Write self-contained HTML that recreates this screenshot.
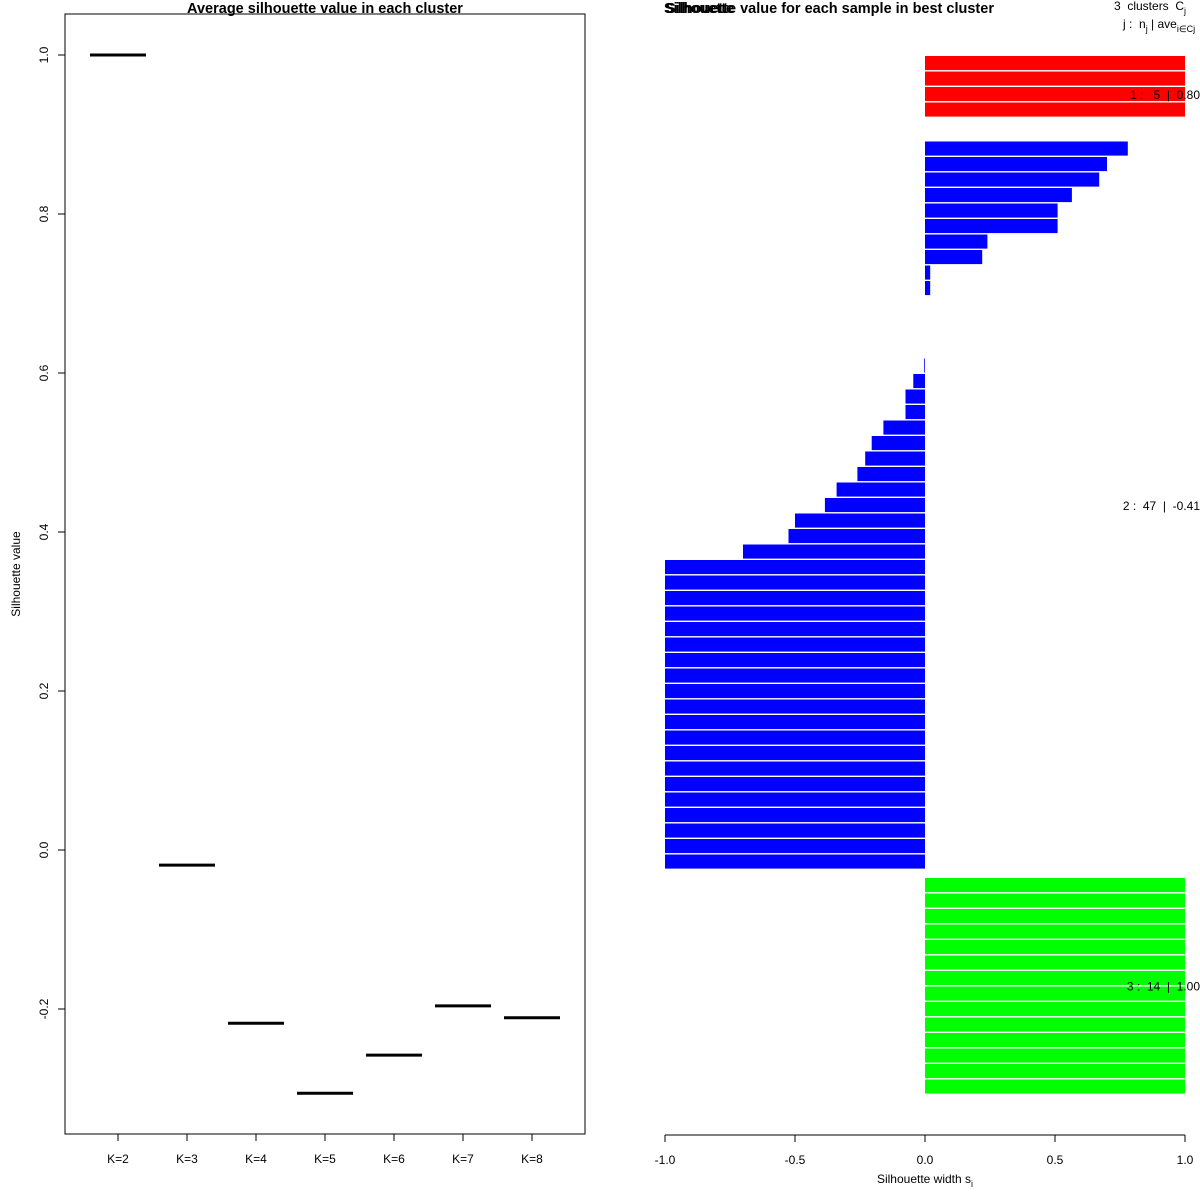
<!DOCTYPE html>
<html><head><meta charset="utf-8"><style>
body{margin:0;background:#fff}
svg{display:block;font-family:"Liberation Sans",Arial,sans-serif}
text{white-space:pre}
</style></head><body>
<svg id="chart" width="1200" height="1200" viewBox="0 0 1200 1200">
<rect x="65" y="14" width="520" height="1120" fill="none" stroke="#000" stroke-width="1"/>
<text x="325" y="13" text-anchor="middle" font-size="14.5" font-weight="bold">Average silhouette value in each cluster</text>
<text x="20" y="574" text-anchor="middle" font-size="12" transform="rotate(-90 20 574)">Silhouette value</text>
<g id="left"></g>
<text x="664" y="13" font-size="14.5" font-weight="bold">Silhouette</text>
<text x="666" y="13" font-size="14.5" font-weight="bold">Silhouette value for each sample in best cluster</text>
<text x="1114" y="10" font-size="12">3  clusters  C<tspan font-size="9" dy="4">j</tspan></text>
<text x="1123" y="28" font-size="12">j :  n<tspan font-size="9" dy="4">j</tspan><tspan dy="-4"> | ave</tspan><tspan font-size="9" dy="4">i∈Cj</tspan><tspan dy="-4">  s</tspan></text>
<g id="right"></g>
<text x="925" y="1183" text-anchor="middle" font-size="12">Silhouette width s<tspan font-size="9" dy="4">i</tspan></text>
</svg>
<script>
const NS="http://www.w3.org/2000/svg";
const kLabels=["K=2","K=3","K=4","K=5","K=6","K=7","K=8"];
const avgSil=[1.0,-0.019,-0.218,-0.306,-0.258,-0.196,-0.211];
const yTicks=[-0.2,0.0,0.2,0.4,0.6,0.8,1.0];
const clusterNames=["1","2","3"];
const clusterColors=["#ff0000","#0000ff","#00ff00"];
const clusterLabels=["1 :   5  |  0.80","2 :  47  |  -0.41","3 :  14  |  1.00"];
const sil1=[1,1,1,1,0];
const sil2=[0.78,0.70,0.67,0.565,0.51,0.51,0.24,0.22,0.02,0.02,0,0,0,0,-0.003,-0.045,-0.075,-0.075,-0.16,-0.205,-0.23,-0.26,-0.34,-0.385,-0.5,-0.525,-0.70,-1,-1,-1,-1,-1,-1,-1,-1,-1,-1,-1,-1,-1,-1,-1,-1,-1,-1,-1,-1];
const sil3=[1,1,1,1,1,1,1,1,1,1,1,1,1,1];
const xTicks=[-1.0,-0.5,0.0,0.5,1.0];

function mk(tag,attrs,parent){const e=document.createElementNS(NS,tag);for(const k in attrs)e.setAttribute(k,attrs[k]);parent.appendChild(e);return e;}
const L=document.getElementById('left');
const yL=v=>850-v*795;
const xL=i=>118+i*69;
mk('line',{x1:65,x2:65,y1:yL(-0.2),y2:yL(1.0),stroke:'#000'},L);
yTicks.forEach(t=>{
  const tk=mk('line',{x1:58,x2:65,y1:yL(t),y2:yL(t),stroke:'#000'},L);
  
  
  const tx=mk('text',{x:48,y:yL(t),'font-size':12,'text-anchor':'middle',transform:`rotate(-90 48 ${yL(t)})`},L);
  tx.textContent=t.toFixed(1);
  
  
});
mk('line',{x1:xL(0),x2:xL(kLabels.length-1),y1:1134,y2:1134,stroke:'#000'},L);
kLabels.forEach((k,i)=>{
  const tk=mk('line',{x1:xL(i),x2:xL(i),y1:1134,y2:1141,stroke:'#000'},L);
  
  
  const tx=mk('text',{x:xL(i),y:1163,'font-size':12,'text-anchor':'middle'},L);
  tx.textContent=k;
  
  
  const s=mk('line',{x1:xL(i)-28,x2:xL(i)+28,y1:yL(avgSil[i]),y2:yL(avgSil[i]),stroke:'#000','stroke-width':3},L);
  
  
});

const R=document.getElementById('right');
const xR=v=>925+v*260;
const pitch=15.5, gap=8;
let y=56;
[sil1,sil2,sil3].forEach((arr,c)=>{
  const y0=y;
  arr.forEach(v=>{
    if(v!==0){
      const r=mk('rect',{x:Math.min(xR(0),xR(v)),y:y,width:Math.abs(xR(v)-xR(0)),height:pitch-1.4,fill:clusterColors[c]},R);
      
      
    }
    y+=pitch;
  });
  const t=mk('text',{x:1200,y:(y0+y)/2+4,'font-size':12,'text-anchor':'end'},R);
  t.textContent=clusterLabels[c];
  
  
  y+=gap;
});
mk('line',{x1:xR(-1),x2:xR(1),y1:1135,y2:1135,stroke:'#000'},R);
xTicks.forEach(t=>{
  const tk=mk('line',{x1:xR(t),x2:xR(t),y1:1135,y2:1142,stroke:'#000'},R);
  
  
  const tx=mk('text',{x:xR(t),y:1164,'font-size':12,'text-anchor':'middle'},R);
  tx.textContent=t.toFixed(1);
  
  
});
</script>
</body></html>
